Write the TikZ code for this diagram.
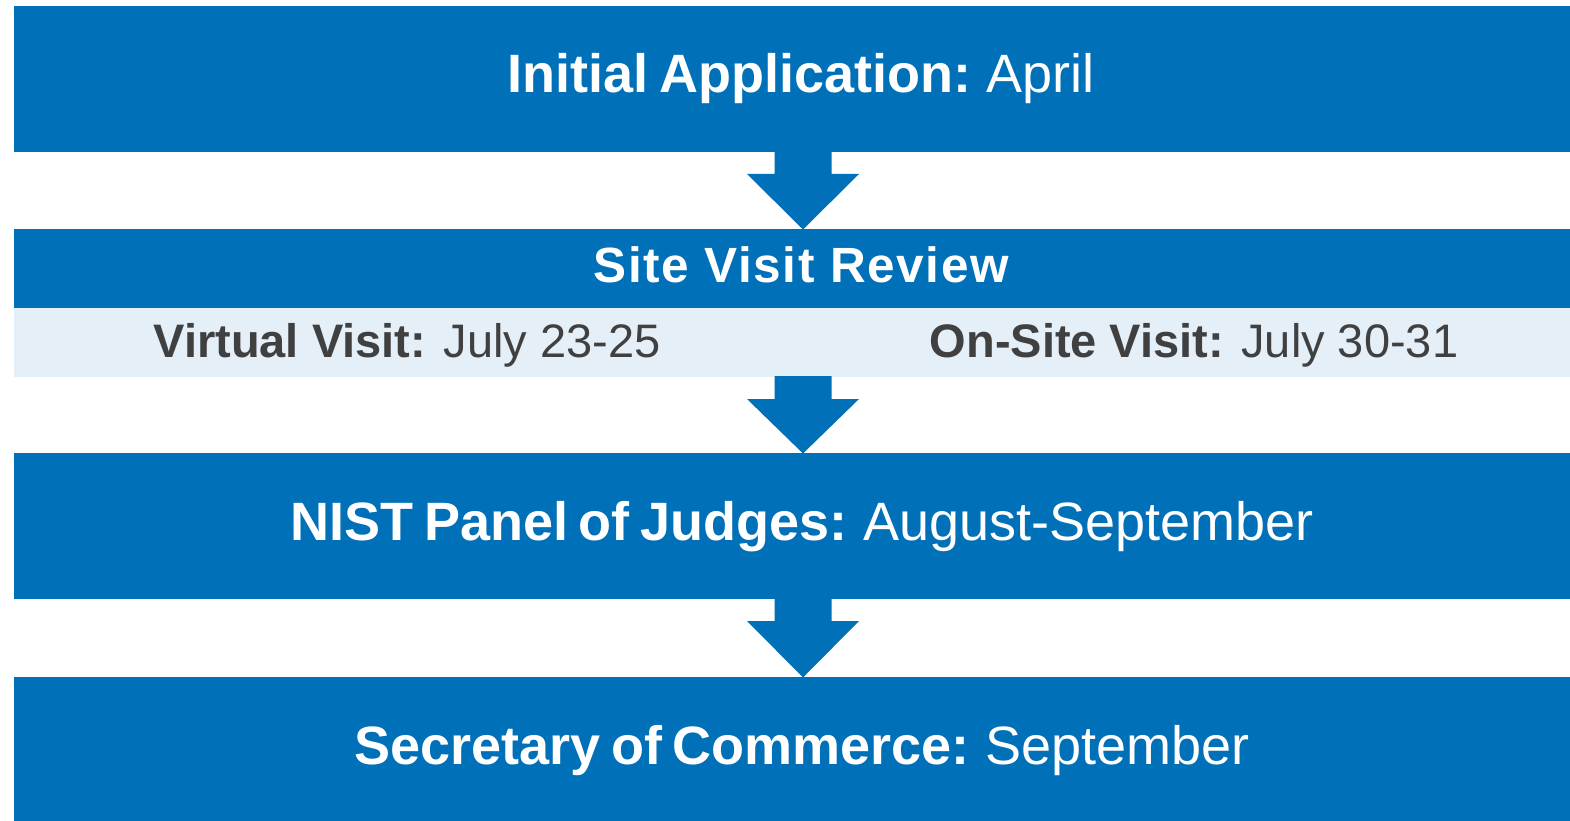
\documentclass[tikz,border=0pt]{standalone}
\usepackage{fontspec}
\setmainfont{Liberation Sans}
\newfontfamily\tightfont[WordSpace=0.72]{Liberation Sans}
\newfontfamily\spacedfont[LetterSpace=3.3]{Liberation Sans}
\usetikzlibrary{calc}
\definecolor{nistblue}{HTML}{0070B8}
\definecolor{lightstrip}{HTML}{E5EFF8}
\definecolor{darktext}{HTML}{404040}
\tikzset{
  box/.style={fill=nistblue, draw=none, inner sep=0pt, minimum width=1556pt},
  strip/.style={fill=lightstrip, draw=none, inner sep=0pt, minimum width=1556pt},
  bigtext/.style={anchor=base, text=white, inner sep=0pt, font=\tightfont\fontsize{54}{60}\selectfont},
  midtext/.style={anchor=base, text=white, inner sep=0pt, font=\spacedfont\fontsize{49.5}{56}\selectfont},
  subtext/.style={anchor=base, text=darktext, inner sep=0pt, font=\fontsize{47}{54}\selectfont},
  arrowfill/.style={fill=nistblue, draw=none}
}
\newcommand{\blkarrow}[2]{%
  \fill[arrowfill] ($(#1)+(-28.5,-1)$) -- ($(#1)+(28.5,-1)$) -- ($(#1)+(28.5,22)$) -- ($(#1)+(56,22)$) -- (#2) -- ($(#1)+(-56,22)$) -- ($(#1)+(-28.5,22)$) -- cycle;}
\begin{document}
\begin{tikzpicture}[x=1pt,y=-1pt]
\useasboundingbox (0,0) rectangle (1570,821);
% boxes
\node[box, minimum height=146pt] (b1) at (792,79) {};
\node[box, minimum height=79pt] (b2) at (792,268.5) {};
\node[strip, minimum height=69pt] (b2s) at (792,342.5) {};
\node[box, minimum height=146pt] (b3) at (792,526) {};
\node[box, minimum height=144pt] (b4) at (792,749) {};
% arrows
\coordinate (a1s) at (803,152);
\coordinate (a1e) at (803,229.5);
\coordinate (a2s) at (803,377);
\coordinate (a2e) at (803,453.5);
\coordinate (a3s) at (803,599);
\coordinate (a3e) at (803,677.5);
\blkarrow{a1s}{a1e}
\blkarrow{a2s}{a2e}
\blkarrow{a3s}{a3e}
% texts
\node[bigtext] (t1) at (801,93) {\textbf{Initial Application:} April};
\node[midtext] (t2) at (802,282) {\textbf{Site Visit Review}};
\node[subtext] (t2a) at (407,357) {\textbf{Virtual Visit:} July 23-25};
\node[subtext] (t2b) at (1194,357) {\textbf{On-Site Visit:} July 30-31};
\node[bigtext] (t3) at (802,540) {\textbf{NIST Panel of Judges:} August-September};
\node[bigtext] (t4) at (802,764) {\textbf{Secretary of Commerce:} September};
\end{tikzpicture}
\end{document}
